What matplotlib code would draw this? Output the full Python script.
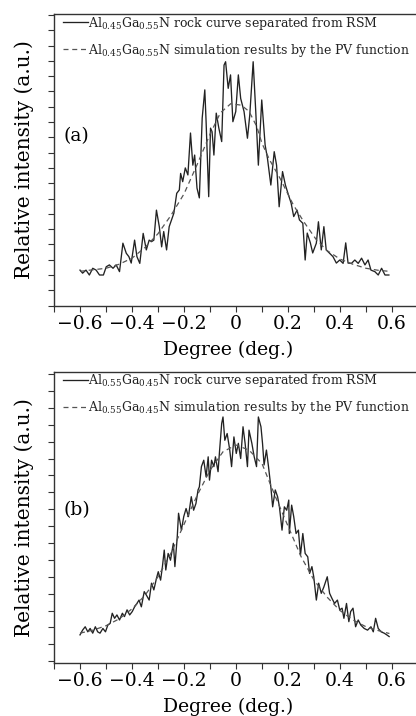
import matplotlib
matplotlib.use("Agg")
import matplotlib.pyplot as plt
from matplotlib.ticker import MultipleLocator, FixedLocator, FixedFormatter

plt.rcParams['font.family'] = ['DejaVu Serif']
plt.rcParams['mathtext.fontset'] = 'dejavuserif'

# ---------------- data ----------------
x_ticks = [-0.6, -0.4, -0.2, 0.0, 0.2, 0.4, 0.6]
x_tick_labels = ['\u22120.6', '\u22120.4', '\u22120.2', '0', '0.2', '0.4', '0.6']
x_label = 'Degree (deg.)'
y_label = 'Relative intensity (a.u.)'

label_a_meas = r'$\mathrm{Al_{0.45}Ga_{0.55}N}$ rock curve separated from RSM'
label_a_sim = r'$\mathrm{Al_{0.45}Ga_{0.55}N}$ simulation results by the PV function'
label_b_meas = r'$\mathrm{Al_{0.55}Ga_{0.45}N}$ rock curve separated from RSM'
label_b_sim = r'$\mathrm{Al_{0.55}Ga_{0.45}N}$ simulation results by the PV function'

# panel (a): measured rock curve
xa = [-0.600, -0.590, -0.577, -0.564, -0.551, -0.538, -0.525, -0.510, -0.499, -0.487,
      -0.473, -0.461, -0.448, -0.435, -0.422, -0.412, -0.403, -0.390, -0.381, -0.370,
      -0.357, -0.345, -0.334, -0.325, -0.316, -0.306, -0.295, -0.286, -0.278, -0.267,
      -0.257, -0.248, -0.239, -0.228, -0.218, -0.213, -0.205, -0.195, -0.185, -0.175,
      -0.166, -0.159, -0.150, -0.141, -0.130, -0.120, -0.115, -0.105, -0.098, -0.092,
      -0.085, -0.076, -0.066, -0.055, -0.046, -0.040, -0.030, -0.021, -0.012, -0.001,
      0.009, 0.018, 0.031, 0.044, 0.053, 0.066, 0.076, 0.086, 0.099, 0.112,
      0.121, 0.134, 0.147, 0.156, 0.166, 0.179, 0.190, 0.202, 0.212, 0.222,
      0.235, 0.244, 0.257, 0.266, 0.274, 0.286, 0.295, 0.309, 0.317, 0.328,
      0.338, 0.347, 0.360, 0.373, 0.386, 0.399, 0.412, 0.422, 0.431, 0.444,
      0.457, 0.470, 0.483, 0.496, 0.508, 0.519, 0.534, 0.547, 0.560, 0.573, 0.588]
ya = [1.16, 1.06, 1.16, 1.00, 1.22, 1.16, 1.00, 1.00, 1.27, 1.33,
      1.22, 1.33, 1.11, 2.04, 1.71, 1.60, 1.39, 2.14, 1.60, 1.38,
      2.36, 1.82, 2.14, 2.09, 2.14, 3.12, 2.58, 1.92, 2.42, 1.82,
      2.58, 2.80, 3.02, 3.67, 3.78, 4.32, 4.05, 4.50, 4.27, 5.64,
      4.59, 4.92, 3.84, 3.52, 6.13, 7.05, 6.01, 3.56, 5.80, 5.68,
      4.92, 6.29, 5.80, 5.36, 7.86, 7.97, 7.10, 7.54, 6.01, 6.34,
      7.54, 6.77, 6.34, 5.47, 6.23, 7.97, 6.34, 4.59, 6.72, 5.25,
      4.81, 3.94, 5.03, 4.59, 3.23, 4.38, 3.94, 3.61, 3.35, 2.91,
      3.12, 2.80, 2.69, 1.49, 2.37, 2.05, 1.72, 2.04, 2.74, 1.82,
      2.58, 1.82, 1.71, 1.60, 1.39, 1.49, 1.38, 2.05, 1.39, 1.38,
      1.49, 1.38, 1.55, 1.33, 1.49, 1.16, 1.11, 1.00, 1.22, 1.00, 1.00]

# panel (a): PV simulation
xa_fit = [-0.60, -0.50, -0.45, -0.40, -0.35, -0.30, -0.25, -0.20, -0.15, -0.10,
          -0.06, -0.02, 0.02, 0.05, 0.08, 0.10, 0.13, 0.17, 0.22, 0.26,
          0.31, 0.35, 0.40, 0.45, 0.50, 0.55, 0.59]
ya_fit = [1.12, 1.22, 1.35, 1.55, 1.90, 2.35, 2.95, 3.65, 4.60, 5.60,
          6.30, 6.60, 6.55, 6.35, 5.85, 5.30, 4.75, 4.15, 3.30, 2.75,
          2.14, 1.80, 1.52, 1.35, 1.22, 1.15, 1.12]

# panel (b): measured rock curve
xb = [-0.600, -0.590, -0.580, -0.570, -0.561, -0.551, -0.541, -0.532, -0.523, -0.512,
      -0.502, -0.493, -0.484, -0.476, -0.467, -0.458, -0.448, -0.437, -0.429, -0.419,
      -0.409, -0.399, -0.390, -0.381, -0.373, -0.364, -0.353, -0.345, -0.334, -0.325,
      -0.316, -0.306, -0.299, -0.290, -0.283, -0.276, -0.270, -0.261, -0.252, -0.241,
      -0.235, -0.226, -0.221, -0.210, -0.201, -0.192, -0.183, -0.172, -0.163, -0.154,
      -0.146, -0.141, -0.133, -0.124, -0.115, -0.107, -0.102, -0.094, -0.085, -0.079,
      -0.069, -0.063, -0.055, -0.050, -0.043, -0.034, -0.024, -0.017, -0.008, 0.001,
      0.009, 0.018, 0.027, 0.035, 0.044, 0.050, 0.061, 0.070, 0.079, 0.086,
      0.096, 0.102, 0.108, 0.117, 0.125, 0.134, 0.141, 0.151, 0.160, 0.167,
      0.177, 0.186, 0.195, 0.203, 0.205, 0.214, 0.222, 0.231, 0.240, 0.248,
      0.257, 0.266, 0.276, 0.283, 0.292, 0.299, 0.309, 0.318, 0.328, 0.338,
      0.351, 0.360, 0.369, 0.379, 0.390, 0.399, 0.408, 0.415, 0.425, 0.434,
      0.441, 0.450, 0.460, 0.470, 0.480, 0.493, 0.506, 0.519, 0.528, 0.537,
      0.547, 0.558, 0.570, 0.580, 0.589]
yb = [1.28, 1.42, 1.52, 1.37, 1.47, 1.33, 1.52, 1.37, 1.33, 1.47,
      1.37, 1.57, 1.62, 1.92, 1.77, 1.87, 1.72, 1.92, 1.82, 2.02,
      1.87, 1.97, 2.11, 2.21, 2.31, 2.11, 2.56, 2.46, 2.31, 2.81,
      2.61, 2.95, 3.15, 2.90, 3.30, 3.79, 3.20, 3.69, 3.49, 3.99,
      3.30, 4.18, 4.88, 4.38, 4.78, 5.02, 4.78, 5.37, 4.97, 5.17,
      5.57, 5.66, 6.26, 6.45, 5.96, 6.55, 5.86, 6.45, 6.26, 6.55,
      6.11, 6.75, 7.54, 7.73, 7.04, 7.24, 6.75, 6.26, 7.14, 6.65,
      6.95, 6.50, 7.44, 6.95, 6.26, 7.34, 6.95, 6.55, 6.26, 7.73,
      7.44, 6.95, 6.31, 6.75, 6.26, 5.66, 5.07, 5.57, 5.37, 5.07,
      4.38, 5.07, 4.97, 5.27, 4.28, 5.12, 4.78, 4.28, 4.38, 3.64,
      4.28, 3.69, 3.59, 3.10, 3.30, 3.00, 2.31, 2.81, 2.51, 2.70,
      3.00, 2.51, 2.36, 2.21, 2.31, 2.02, 2.07, 1.77, 2.21, 1.67,
      1.97, 2.07, 1.52, 1.72, 1.57, 1.47, 1.42, 1.52, 1.37, 1.77,
      1.47, 1.37, 1.33, 1.28, 1.23]

# panel (b): PV simulation
xb_fit = [-0.60, -0.55, -0.50, -0.45, -0.40, -0.35, -0.30, -0.25, -0.20, -0.15,
          -0.10, -0.05, 0.00, 0.05, 0.10, 0.15, 0.20, 0.25, 0.30, 0.35,
          0.40, 0.45, 0.50, 0.55, 0.59]
yb_fit = [1.33, 1.42, 1.55, 1.75, 2.05, 2.45, 3.00, 3.70, 4.55, 5.40,
          6.15, 6.70, 6.90, 6.75, 6.35, 5.40, 4.50, 3.60, 2.90, 2.40,
          2.00, 1.72, 1.52, 1.40, 1.32]

# ---------------- figure ----------------
W, H = 416, 716
fig = plt.figure(figsize=(W / 100, H / 100), dpi=100)
ax_a = fig.add_axes([54 / W, 1 - 305.6 / H, 364 / W, 291.6 / H])
ax_b = fig.add_axes([54 / W, 1 - 662.7 / H, 364 / W, 291.0 / H])

line_col = '#222222'
tick_fs = 13.5
label_fs = 13.5

def style(ax, ylim, meas_x, meas_y, fit_x, fit_y, lab_meas, lab_sim, tag, tag_y):
    ax.plot(meas_x, meas_y, color=line_col, lw=0.95, label=lab_meas)
    ax.plot(fit_x, fit_y, color='#555555', lw=0.9, ls=(0, (4, 3)), label=lab_sim)
    ax.set_xlim(-0.7, 0.7)
    ax.set_ylim(*ylim)
    ax.xaxis.set_major_locator(FixedLocator(x_ticks))
    ax.xaxis.set_major_formatter(FixedFormatter(x_tick_labels))
    ax.xaxis.set_minor_locator(MultipleLocator(0.1))
    ax.yaxis.set_major_locator(MultipleLocator(1.0))
    ax.yaxis.set_minor_locator(MultipleLocator(0.5))
    ax.tick_params(axis='both', which='both', direction='out', color='#333333', width=0.8)
    ax.tick_params(axis='both', which='major', length=4.5)
    ax.tick_params(axis='both', which='minor', length=4)
    ax.tick_params(axis='x', labelsize=tick_fs, pad=2)
    ax.tick_params(axis='y', labelleft=False)
    for s in ax.spines.values():
        s.set_linewidth(1.0)
        s.set_color('#333333')
    ax.set_xlabel(x_label, fontsize=label_fs)
    ax.xaxis.set_label_coords(0.478, -0.122)
    ax.set_ylabel(y_label, fontsize=14.5)
    ax.yaxis.set_label_coords(-0.055, 0.5)
    ax.text(0.025, tag_y, tag, transform=ax.transAxes, fontsize=13.5, va='center', ha='left')
    leg = ax.legend(loc='upper left', bbox_to_anchor=(0.01, 1.015), frameon=False,
                    fontsize=9.0, handlelength=2.0, handletextpad=0.0,
                    labelspacing=0.8, borderaxespad=0.0)
    for t in leg.get_texts():
        t.set_color('#222222')

style(ax_a, (0.0, 9.53), xa, ya, xa_fit, ya_fit, label_a_meas, label_a_sim, '(a)', 0.58)
style(ax_b, (0.456, 9.07), xb, yb, xb_fit, yb_fit, label_b_meas, label_b_sim, '(b)', 0.525)

fig.savefig('out.png', dpi=100)
